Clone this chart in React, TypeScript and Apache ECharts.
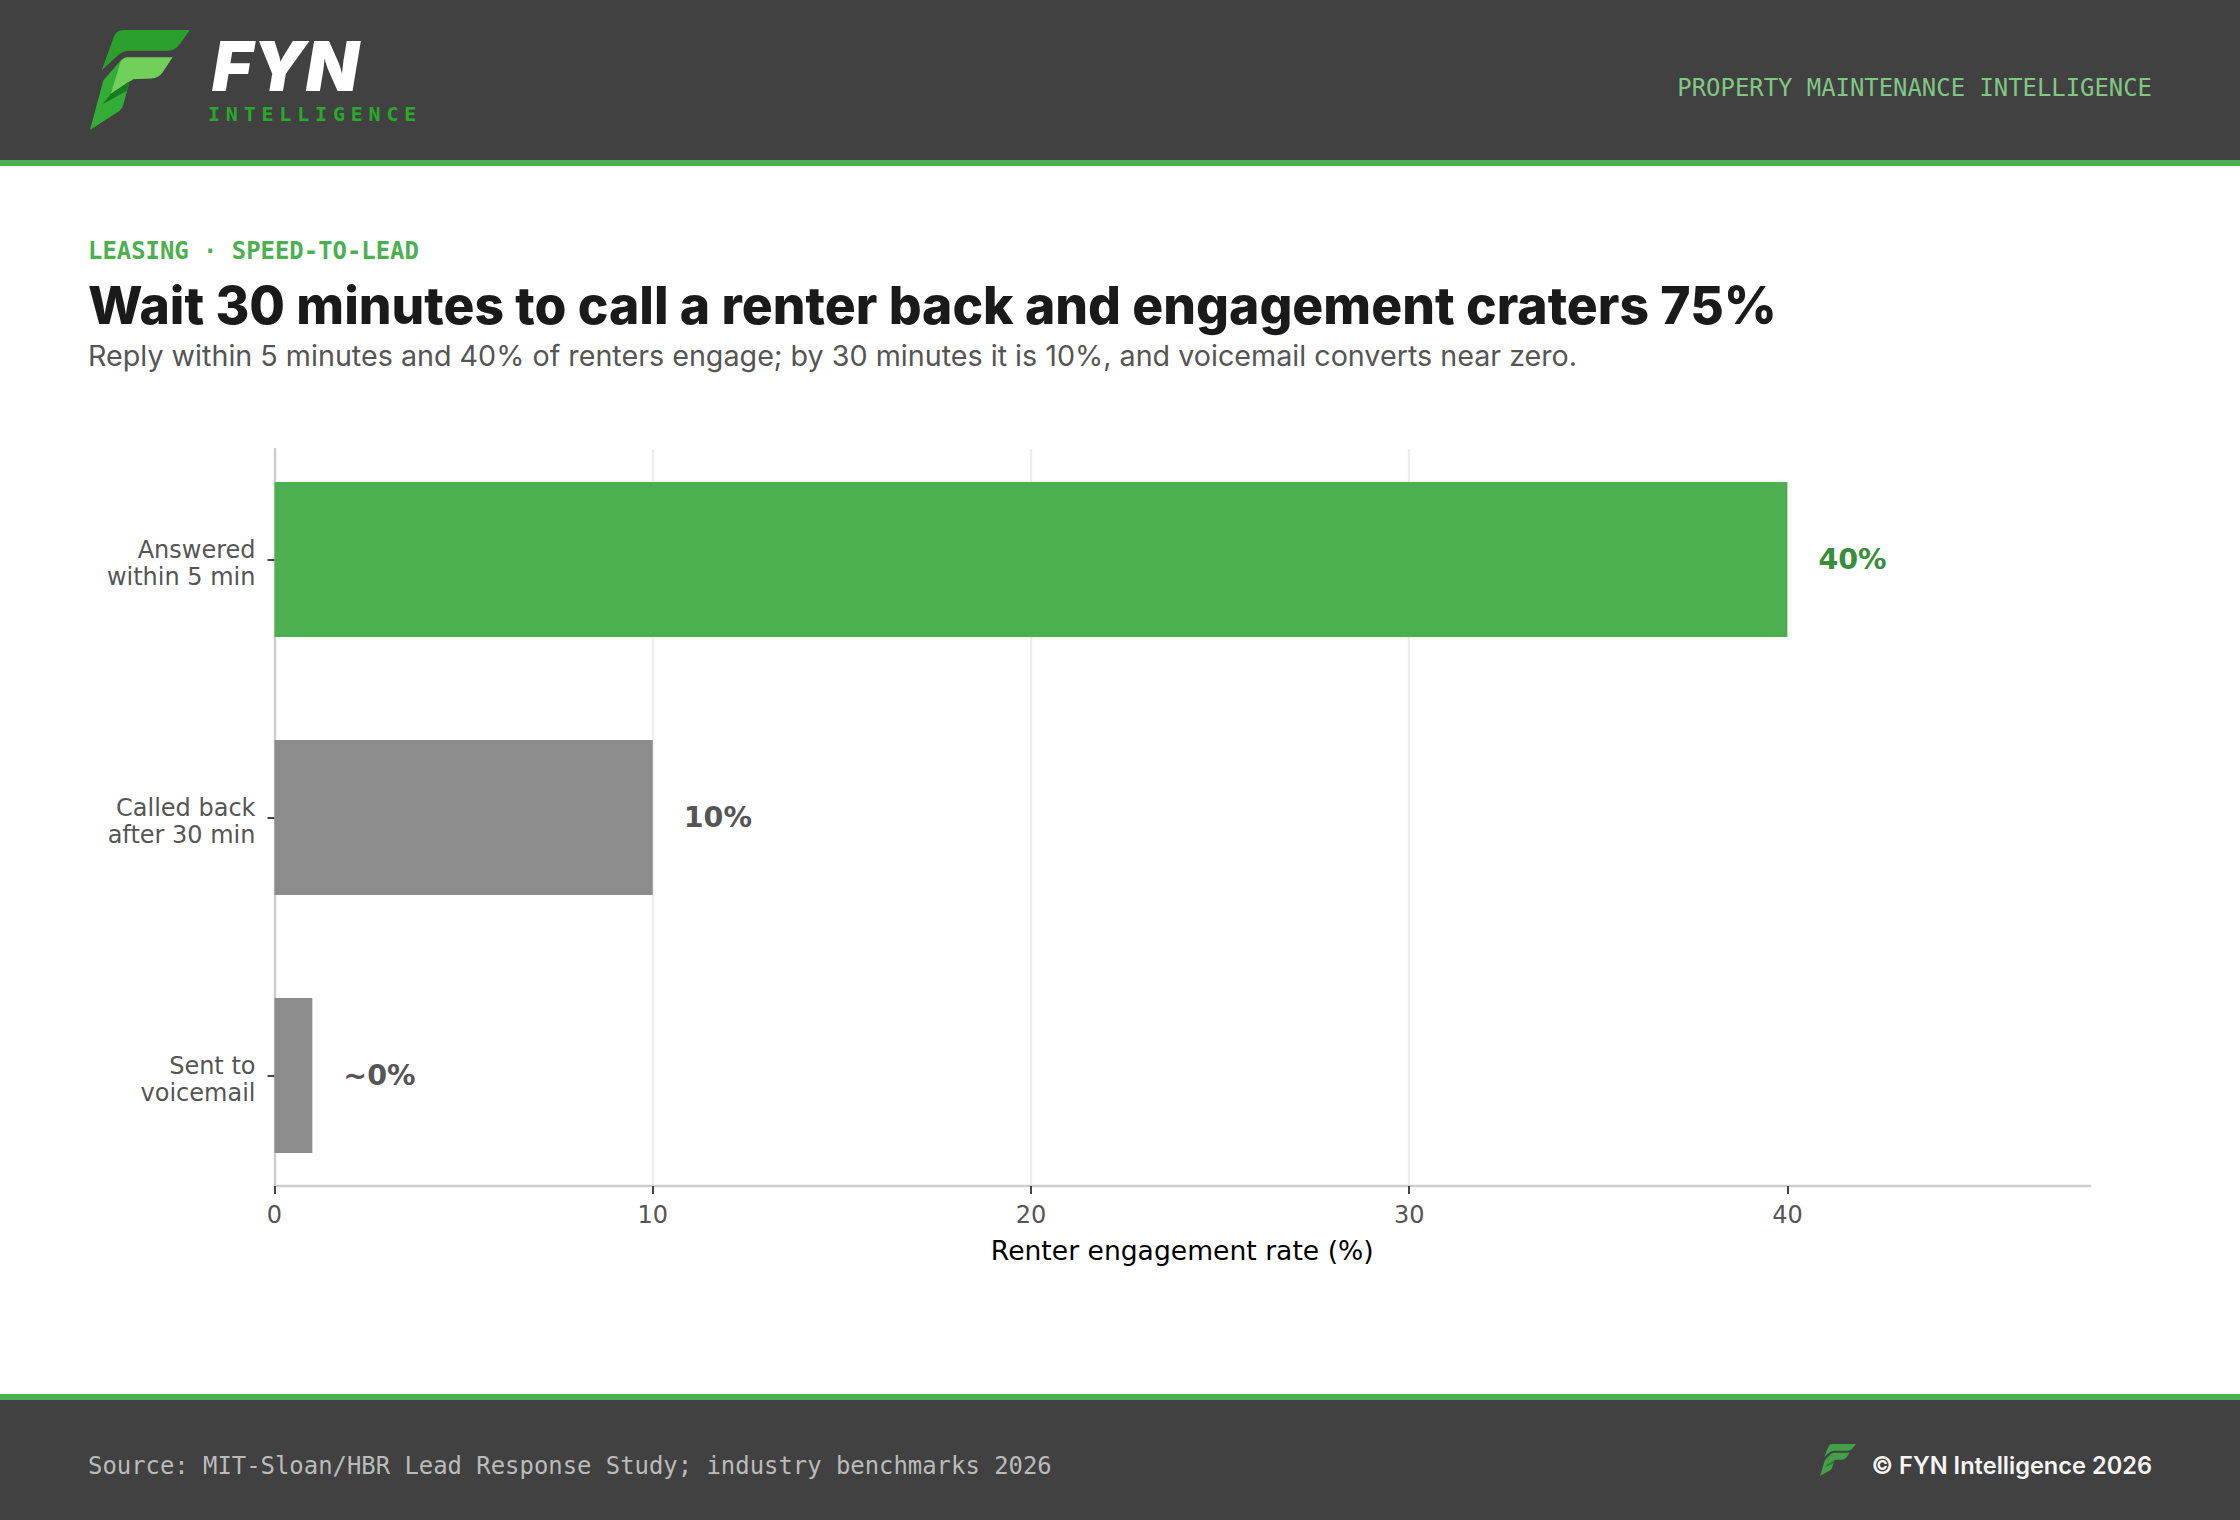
import React, { useEffect, useRef } from 'react';
import * as echarts from 'echarts';

const categories = ['Answered\nwithin 5 min', 'Called back\nafter 30 min', 'Sent to\nvoicemail'];
const engagementValues = [40, 10, 1];
const valueLabels = ['40%', '10%', '~0%'];
const barColors = ['#4caf50', '#8c8c8c', '#8c8c8c'];
const labelColors = ['#388e3c', '#555555', '#555555'];
const xTicks = [0, 10, 20, 30, 40];

const SANS = 'DejaVu Sans';
const MONO = 'DejaVu Sans Mono';
const HEAD = 'Inter';

// logo pieces, drawn in a 420x360 box
echarts.graphic.registerShape('logoTop', echarts.graphic.extendPath('M95 152 L130 55 Q138 30 160 30 L360 30 L330 72 Q315 92 295 92 L175 92 Q155 94 145 105 Z', {}));
echarts.graphic.registerShape('logoLower', echarts.graphic.extendPath('M158 115 L100 182 L60 330 L148 273 Q158 265 160 255 L178 188 L122 222 Z', {}));
echarts.graphic.registerShape('logoLight', echarts.graphic.extendPath('M160 112 L308 112 L278 158 Q265 175 245 176 L190 178 L122 222 L150 132 Q154 115 170 112 Z', {}));
echarts.graphic.registerShape('logoShadow', echarts.graphic.extendPath('M180 183 L122 222 L97 253 L170 213 Z', {}));

const logo = (x: number, y: number, sx: number, sy: number, fills: string[]) =>
  ['logoTop', 'logoLower', 'logoLight', 'logoShadow'].map((type, i) => ({
    type,
    x,
    y,
    scaleX: sx,
    scaleY: sy,
    silent: true,
    style: { fill: fills[i] },
  }));

const text = (x: number, y: number, t: string, font: string, size: number, fill: string, weight: any = 'normal', align = 'left', extra: any = {}) => ({
  type: 'text',
  x,
  y,
  silent: true,
  style: { text: t, fontFamily: font, fontSize: size, fill, fontWeight: weight, align, verticalAlign: 'middle', ...extra },
});

const band = (y: number, h: number, fill: string) => ({
  type: 'rect',
  silent: true,
  shape: { x: 0, y, width: 2240, height: h },
  style: { fill },
});

const App: React.FC = () => {
  const chartRef = useRef<HTMLDivElement>(null);

  useEffect(() => {
    if (!chartRef.current) return;
    const chart = echarts.init(chartRef.current, undefined, { renderer: 'svg' });

    chart.setOption({
      animation: false,
      backgroundColor: '#ffffff',
      // first grid holds the axis frame, second one the bars (bands run past the frame)
      grid: [
        { left: 274.5, right: 150, top: 449, bottom: 334 },
        { left: 274.5, right: 150, top: 430.5, bottom: 315.5 },
      ],
      xAxis: [
        {
          type: 'value',
          gridIndex: 0,
          min: 0,
          max: 48,
          interval: 10,
          name: 'Renter engagement rate (%)',
          nameLocation: 'middle',
          nameGap: 51,
          nameTextStyle: { fontFamily: SANS, fontSize: 26.6, color: '#000000' },
          axisLine: { show: true, lineStyle: { color: '#cccccc', width: 2.4 } },
          axisTick: { show: true, length: 8, customValues: xTicks, lineStyle: { color: '#444444', width: 2 } },
          axisLabel: { fontFamily: SANS, fontSize: 24, color: '#555555', margin: 17, customValues: xTicks },
          splitLine: { show: true, showMinLine: false, showMaxLine: false, lineStyle: { color: '#eeeeee', width: 2.4 } },
        },
        { type: 'value', gridIndex: 1, min: 0, max: 48, show: false },
      ],
      yAxis: [
        {
          type: 'value',
          gridIndex: 0,
          min: 0,
          max: 1,
          axisLine: { show: true, lineStyle: { color: '#cccccc', width: 2.4 } },
          axisTick: { show: false },
          axisLabel: { show: false },
          splitLine: { show: false },
        },
        {
          type: 'category',
          gridIndex: 1,
          inverse: true,
          data: categories,
          axisLine: { show: false },
          axisTick: { show: true, alignWithLabel: true, length: 7, lineStyle: { color: '#444444', width: 2 } },
          axisLabel: {
            margin: 19,
            align: 'right',
            // the labels sit a little under their tick in the reference
            formatter: (value: string) =>
              value
                .split('\n')
                .map((line) => `{line|${line}}`)
                .join('\n'),
            rich: {
              line: { fontFamily: SANS, fontSize: 24, color: '#555555', align: 'right', lineHeight: 27, padding: [7, 0, 0, 0] },
            },
          },
        },
      ],
      series: [
        {
          type: 'bar',
          xAxisIndex: 1,
          yAxisIndex: 1,
          barWidth: 155,
          data: engagementValues.map((value, i) => ({
            value,
            itemStyle: { color: barColors[i] },
            label: {
              show: true,
              position: 'right',
              distance: 31,
              formatter: valueLabels[i],
              fontFamily: SANS,
              fontSize: 28.5,
              fontWeight: 'bold',
              color: labelColors[i],
            },
          })),
        },
      ],
      graphic: [
        band(0, 160, '#414141'),
        band(160, 6, '#4caf50'),
        band(1394, 6, '#4caf50'),
        band(1400, 120, '#414141'),
        ...logo(70, 20, 1 / 3, 1 / 3, ['#2ba02d', '#33ad36', '#72cf5c', '#1b7a20']),
        text(212, 66, 'FYN', HEAD, 69, '#ffffff', 900, 'left', { fontStyle: 'italic' }),
        text(208, 114, 'INTELLIGENCE', MONO, 20, '#2aa82e', 'bold'),
        text(2152, 88, 'PROPERTY MAINTENANCE INTELLIGENCE', MONO, 23.9, '#81c784', 'normal', 'right'),
        text(88, 251, 'LEASING · SPEED-TO-LEAD', MONO, 23.9, '#4caf50', 'bold'),
        text(88, 305, 'Wait 30 minutes to call a renter back and engagement craters 75%', HEAD, 51.6, '#1a1a1a', 800),
        text(88, 355, 'Reply within 5 minutes and 40% of renters engage; by 30 minutes it is 10%, and voicemail converts near zero.', HEAD, 28.7, '#555555'),
        text(88, 1466, 'Source: MIT-Sloan/HBR Lead Response Study; industry benchmarks 2026', MONO, 23.9, '#bbbbbb'),
        ...logo(1812.8, 1440.8, 0.12, 0.107, ['#43a047', '#43a047', '#43a047', '#2e7d32']),
        text(2152, 1465, '© FYN Intelligence 2026', HEAD, 23.6, '#f5f5f5', 600, 'right'),
      ],
    });

    // the wordmark's tracking has no option in zrender text
    chartRef.current.querySelectorAll('text').forEach((node) => {
      if (node.textContent === 'INTELLIGENCE') node.setAttribute('letter-spacing', '5.8');
    });

    return () => chart.dispose();
  }, []);

  return <div ref={chartRef} style={{ position: 'absolute', left: 0, top: 0, width: 2240, height: 1520 }} />;
};

export default App;
